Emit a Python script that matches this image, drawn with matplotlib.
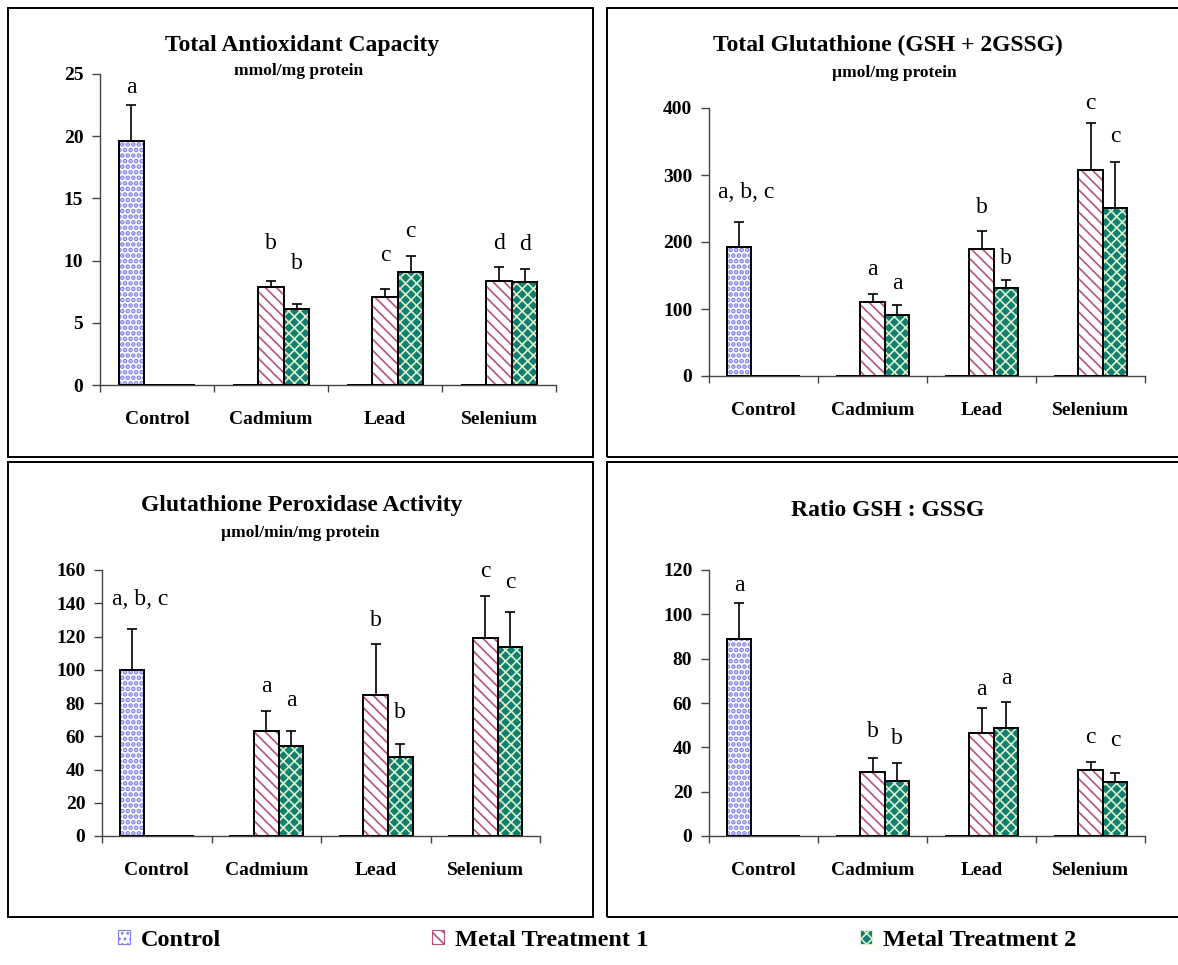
import numpy as np
import matplotlib
matplotlib.use('Agg')
import matplotlib.pyplot as plt
from matplotlib.patches import Patch, Rectangle

plt.rcParams['font.family'] = ['Liberation Serif', 'DejaVu Serif']
plt.rcParams['hatch.linewidth'] = 1.2

categories = ['Control', 'Cadmium', 'Lead', 'Selenium']
series_names = ['Control', 'Metal Treatment 1', 'Metal Treatment 2']

# Total antioxidant capacity, mmol/mg protein
tac_control = [19.6, 0, 0, 0]
tac_control_err = [2.9, 0, 0, 0]
tac_mt1 = [0, 7.9, 7.1, 8.4]
tac_mt1_err = [0, 0.5, 0.6, 1.1]
tac_mt2 = [0, 6.1, 9.1, 8.3]
tac_mt2_err = [0, 0.4, 1.3, 1.0]
tac_letters = [['a', '', '', ''], ['', 'b', 'c', 'd'], ['', 'b', 'c', 'd']]

# Total glutathione (GSH + 2GSSG), umol/mg protein
tg_control = [192, 0, 0, 0]
tg_control_err = [38, 0, 0, 0]
tg_mt1 = [0, 110, 190, 308]
tg_mt1_err = [0, 13, 27, 70]
tg_mt2 = [0, 91, 131, 251]
tg_mt2_err = [0, 15, 13, 69]
tg_letters = [['a, b, c', '', '', ''], ['', 'a', 'b', 'c'], ['', 'a', 'b', 'c']]

# Glutathione peroxidase activity, umol/min/mg protein
gpx_control = [100, 0, 0, 0]
gpx_control_err = [24.5, 0, 0, 0]
gpx_mt1 = [0, 63, 85, 119]
gpx_mt1_err = [0, 12, 30.5, 25.5]
gpx_mt2 = [0, 54, 47.5, 113.5]
gpx_mt2_err = [0, 9, 8, 21.5]
gpx_letters = [['a, b, c', '', '', ''], ['', 'a', 'b', 'c'], ['', 'a', 'b', 'c']]

# Ratio GSH : GSSG
ratio_control = [89, 0, 0, 0]
ratio_control_err = [16.3, 0, 0, 0]
ratio_mt1 = [0, 29, 46.6, 29.6]
ratio_mt1_err = [0, 6, 11, 4]
ratio_mt2 = [0, 24.8, 48.7, 24.2]
ratio_mt2_err = [0, 8.2, 11.6, 4]
ratio_letters = [['a', '', '', ''], ['', 'b', 'a', 'c'], ['', 'b', 'a', 'c']]

# heights (data units) where the significance letters sit
tac_letter_y = [[23.9, 0, 0, 0], [0, 11.4, 10.45, 11.4], [0, 9.8, 12.35, 11.3]]
tg_letter_y = [[274, 0, 0, 0], [0, 159, 251, 406], [0, 138, 175, 357]]
gpx_letter_y = [[142, 0, 0, 0], [0, 89.7, 129.7, 159], [0, 81.4, 74.5, 152.5]]
ratio_letter_y = [[113, 0, 0, 0], [0, 47.2, 66.2, 44.6], [0, 43.8, 71, 43.1]]

W, H = 1178, 965
fig = plt.figure(figsize=(W / 100, H / 100), dpi=100)

styles = [
    dict(face='white', hatch_color='#7c7cf0', hatch='...', hatch_lw=2.4),
    dict(face='white', hatch_color='#b8507e', hatch='\\\\\\', hatch_lw=1.2),
    dict(face='#0e7f72', hatch_color='#dcefc8', hatch='xxx', hatch_lw=1.2),
]
offsets = [-0.225, 0.0, 0.225]
bar_w = 0.225


def px_axes(left, right, top, bottom):
    return fig.add_axes([left / W, 1 - bottom / H, (right - left) / W, (bottom - top) / H])


def frame(x0, y0, x1, y1):
    fig.add_artist(Rectangle((x0 / W, 1 - y1 / H), (x1 - x0) / W, (y1 - y0) / H,
                             transform=fig.transFigure, fill=False,
                             edgecolor='black', linewidth=1.4))


def draw_panel(ax, series, errors, letters, letter_y, ymax, ystep, first_dx=0.0):
    x = np.arange(len(categories)) + 0.5
    for i in range(3):
        vals = np.array(series[i], dtype=float)
        err = np.array(errors[i], dtype=float)
        st = styles[i]
        pos = x + offsets[i]
        with plt.rc_context({'hatch.linewidth': st['hatch_lw']}):
            ax.bar(pos, vals, bar_w, color=st['face'], edgecolor=st['hatch_color'],
                   hatch=st['hatch'], linewidth=0, zorder=2)
        ax.bar(pos, vals, bar_w, facecolor='none', edgecolor='black',
               linewidth=1.4, zorder=3)
        m = vals > 0
        ax.errorbar(pos[m], vals[m], yerr=[np.zeros(m.sum()), err[m]], fmt='none',
                    ecolor='black', elinewidth=1.2, capsize=3.3, capthick=1.2, zorder=4)
        for j in range(len(categories)):
            if letters[i][j]:
                dx = first_dx if (i == 0 and j == 0) else 0.0
                ax.text(pos[j] + dx, letter_y[i][j], letters[i][j], ha='center', va='center',
                        fontsize=17, clip_on=False)
    ax.set_xlim(0, len(categories))
    ax.set_ylim(0, ymax)
    ax.set_yticks(np.arange(0, ymax + ystep / 2, ystep))
    ax.set_xticks(range(len(categories) + 1))
    ax.set_xticklabels([])
    ax.set_xticks(x, minor=True)
    ax.set_xticklabels(categories, minor=True, fontsize=14, fontweight='bold')
    ax.tick_params(axis='x', which='minor', length=0, pad=19)
    ax.tick_params(axis='x', which='major', direction='out', length=5, width=1, color='#444444')
    ax.tick_params(axis='y', direction='out', length=6, width=1, color='#444444', pad=6,
                   labelsize=14)
    for lab in ax.get_yticklabels():
        lab.set_fontweight('bold')
    for s in ['top', 'right']:
        ax.spines[s].set_visible(False)
    for s in ['left', 'bottom']:
        ax.spines[s].set_color('#444444')
        ax.spines[s].set_linewidth(1)
    ax.patch.set_alpha(0)


# panel frames
frame(8, 8, 593, 457)
frame(607, 8, 1190, 457)
frame(8, 462, 593, 917)
frame(607, 462, 1190, 917)

ax1 = px_axes(100, 556, 74, 385)
draw_panel(ax1, [tac_control, tac_mt1, tac_mt2], [tac_control_err, tac_mt1_err, tac_mt2_err],
           tac_letters, tac_letter_y, 25, 5)
fig.text(302 / W, 1 - 45 / H, 'Total Antioxidant Capacity', ha='center', va='center',
         fontsize=17, fontweight='bold')
fig.text(299 / W, 1 - 71 / H, 'mmol/mg protein', ha='center', va='center',
         fontsize=12.5, fontweight='bold')

ax2 = px_axes(709, 1145, 108, 376)
draw_panel(ax2, [tg_control, tg_mt1, tg_mt2], [tg_control_err, tg_mt1_err, tg_mt2_err],
           tg_letters, tg_letter_y, 400, 100, first_dx=0.07)
fig.text(888 / W, 1 - 45 / H, 'Total Glutathione (GSH + 2GSSG)', ha='center', va='center',
         fontsize=17, fontweight='bold')
fig.text(894 / W, 1 - 73 / H, 'µmol/mg protein', ha='center', va='center',
         fontsize=12.5, fontweight='bold')

ax3 = px_axes(102, 540, 570, 836)
draw_panel(ax3, [gpx_control, gpx_mt1, gpx_mt2], [gpx_control_err, gpx_mt1_err, gpx_mt2_err],
           gpx_letters, gpx_letter_y, 160, 20, first_dx=0.07)
fig.text(302 / W, 1 - 505 / H, 'Glutathione Peroxidase Activity', ha='center', va='center',
         fontsize=17, fontweight='bold')
fig.text(300 / W, 1 - 533 / H, 'µmol/min/mg protein', ha='center', va='center',
         fontsize=12.5, fontweight='bold')

ax4 = px_axes(709, 1145, 570, 836)
draw_panel(ax4, [ratio_control, ratio_mt1, ratio_mt2], [ratio_control_err, ratio_mt1_err, ratio_mt2_err],
           ratio_letters, ratio_letter_y, 120, 20)
fig.text(888 / W, 1 - 510 / H, 'Ratio GSH : GSSG', ha='center', va='center',
         fontsize=17, fontweight='bold')

# shared legend along the bottom
handles = []
for st in styles:
    with plt.rc_context({'hatch.linewidth': st['hatch_lw']}):
        handles.append(Patch(facecolor=st['face'], edgecolor=st['hatch_color'],
                             hatch=st['hatch'], linewidth=0.8))
fig.legend(handles, series_names, loc='center', bbox_to_anchor=(597 / W, 1 - 940 / H),
           ncol=3, frameon=False, columnspacing=8.7, handlelength=0.5, handleheight=0.55,
           handletextpad=0.45, prop={'size': 17.5, 'weight': 'bold'})

fig.savefig('out.png', dpi=100)
